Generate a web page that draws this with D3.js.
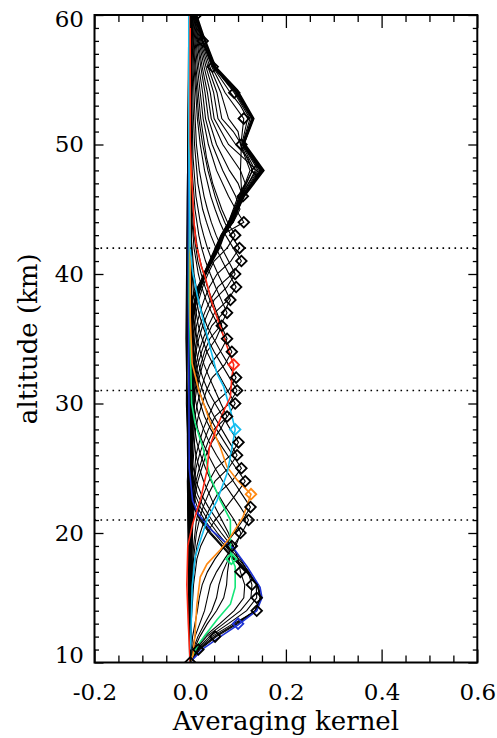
<!DOCTYPE html>
<html>
<head>
<meta charset="utf-8">
<script src="https://cdn.jsdelivr.net/npm/d3@7"></script>
<style>
    body { margin: 0; background: #fff; }
    svg { display: block; font-family: "DejaVu Serif", serif; }
</style>
</head>
<body>
<svg class="kernels" width="497" height="738"></svg>
<script>
// Nominal altitude of each kernel row (km).
let kernelAlt = [10, 11, 12, 13, 14, 15, 16, 17, 18, 19, 20, 21, 22, 23, 24, 25, 26, 27, 28, 29,
    30, 31, 32, 33, 34, 35, 36, 37, 38, 39, 40, 41, 42, 43, 44, 45, 46, 47, 48, 49,
    50, 51, 52, 53, 54, 55, 56, 57, 58, 59, 60];

// Kernel rows as [altitude, value] vertices, one list per nominal altitude.
let kernelRows = [
    [[10,0],[11,0.02],[12,0.055],[13,0.1],[14,0.138],[15,0.147],[16,0.14],[17,0.117],[18,0.09],[19,0.066],[20,0.042],[21,0.022],[22,0.008],[24,-0.003],[30,-0.008],[42,-0.006],[60,-0.002]],
    [[10,0],[11,0.017],[12,0.05],[13,0.095],[14,0.135],[15,0.148],[16,0.142],[17,0.12],[18,0.093],[19,0.068],[20,0.044],[21,0.024],[22,0.01],[24,-0.001],[32,-0.007],[46,-0.006],[60,-0.003]],
    [[10,0],[11,0.018],[12,0.052],[13,0.097],[14,0.136],[15,0.147],[16,0.141],[17,0.118],[18,0.09],[19,0.065],[20,0.04],[21,0.02],[22,0.007],[25,-0.004],[35,-0.009],[50,-0.005],[60,-0.002]],
    [[10,0],[10.3,0.007],[11.1,0.028],[12,0.063],[12.9,0.1],[14,0.139],[15,0.15],[15.8,0.146],[17.4,0.119],[18.8,0.091],[19.4,0.07],[20.3,0.042],[21.5,0.016],[22.5,0.005],[25,-0.002],[40,-0.004],[60,-0.002]],
    [[10,0],[11,0.015],[12,0.045],[13,0.09],[14,0.139],[15,0.146],[16,0.14],[17,0.121],[18,0.096],[19,0.073],[20,0.05],[21,0.03],[22,0.015],[23,0.006],[26,-0.002],[36,-0.006],[60,-0.001]],
    [[10,0],[11,0.013],[12,0.04],[13,0.08],[14,0.118],[15,0.139],[16,0.138],[17,0.123],[18,0.101],[19,0.079],[20,0.057],[21,0.037],[22,0.021],[23,0.01],[25,0],[38,-0.004],[60,0.001]],
    [[10,0],[11,0.011],[12,0.034],[13,0.07],[14,0.105],[15,0.127],[16,0.129],[17,0.121],[18,0.105],[19,0.086],[20,0.065],[21,0.045],[22,0.028],[23,0.015],[25,0.002],[35,-0.003],[60,0.002]],
    [[10,0],[11,0.01],[12,0.03],[13,0.062],[14,0.092],[15,0.112],[16,0.114],[17,0.105],[18,0.1],[19,0.09],[20,0.074],[21,0.056],[22,0.038],[23,0.023],[24,0.012],[26,0.001],[40,-0.002],[60,0.001]],
    [[10,0],[10.4,0.003],[11.4,0.017],[12.1,0.031],[13.3,0.056],[14.5,0.084],[15.8,0.094],[17.4,0.094],[18,0.087],[18.9,0.084],[21,0.084],[22.5,0.063],[24.3,0.042],[26.4,0.028],[28.5,0.01],[30,0.003],[38,-0.002],[60,0]],
    [[10,0],[11,0.008],[12,0.02],[13,0.036],[14,0.055],[15,0.07],[16,0.076],[17,0.078],[18,0.082],[19,0.089],[20,0.08],[21,0.066],[22,0.052],[23,0.04],[24,0.028],[25,0.019],[26,0.012],[28,0.005],[34,-0.003],[60,0]],
    [[10,0],[11,0.006],[12,0.016],[13,0.03],[14,0.045],[15,0.055],[16,0.06],[17,0.068],[18,0.08],[19,0.095],[20,0.106],[21,0.092],[22,0.074],[23,0.058],[24,0.044],[25,0.032],[26,0.022],[27,0.014],[29,0.005],[36,-0.005],[60,0.001]],
    [[10,0],[11,0.004],[12,0.01],[13,0.02],[14,0.03],[15,0.036],[16,0.042],[17,0.055],[18,0.072],[19,0.09],[20,0.108],[21,0.122],[22,0.105],[23,0.086],[24,0.068],[25,0.052],[26,0.038],[27,0.026],[28,0.016],[30,0.006],[36,0],[46,-0.004],[60,0]],
    [[10,0],[12,0.005],[13,0.01],[14,0.015],[15,0.019],[16,0.025],[17,0.036],[18,0.052],[19,0.072],[20,0.092],[21,0.11],[22,0.126],[23,0.108],[24,0.09],[25,0.072],[26,0.055],[27,0.04],[28,0.028],[29,0.018],[31,0.007],[38,0],[48,-0.003],[60,0]],
    [[10,0],[10.6,0.006],[12.2,0.01],[14.5,0.014],[16.6,0.021],[17.6,0.035],[18.7,0.063],[19.7,0.084],[21.2,0.11],[23,0.127],[24.1,0.098],[25.1,0.077],[26.6,0.063],[28.2,0.045],[29.7,0.031],[31,0.018],[33.1,0.004],[36.7,0],[60,0]],
    [[10,0],[13,0.002],[16,0.007],[18,0.014],[19,0.022],[20,0.035],[21,0.052],[22,0.075],[23,0.096],[24,0.115],[25,0.096],[26,0.078],[27,0.06],[28,0.043],[29,0.03],[30,0.021],[32,0.009],[35,0.002],[48,-0.003],[60,-0.001]],
    [[10,0],[14,0.002],[17,0.007],[19,0.014],[20,0.021],[21,0.03],[22,0.042],[23,0.057],[24,0.087],[25,0.107],[26,0.089],[27,0.072],[28,0.055],[29,0.04],[30,0.028],[31,0.019],[33,0.009],[36,0.002],[60,0.001]],
    [[10,0],[15,0.002],[18,0.007],[20,0.013],[21,0.019],[22,0.027],[23,0.038],[24,0.052],[25,0.08],[26,0.098],[27,0.082],[28,0.066],[29,0.05],[30,0.036],[31,0.026],[32,0.017],[34,0.008],[37,0.002],[52,-0.002],[60,0]],
    [[10,0],[16,0.002],[19,0.007],[21,0.013],[22,0.019],[23,0.028],[24,0.039],[25,0.054],[26,0.084],[27,0.101],[28,0.084],[29,0.068],[30,0.052],[31,0.037],[32,0.026],[33,0.018],[35,0.008],[38,0.002],[60,0.001]],
    [[10,0],[15.8,0.004],[18.1,0.01],[19.4,0.021],[21,0.035],[22.5,0.056],[24.6,0.077],[25.9,0.084],[28,0.094],[29.5,0.084],[31.3,0.07],[32.3,0.056],[34,0.044],[36,0.03],[38.3,0.015],[40.2,0.005],[42,0],[50,-0.003],[60,-0.003]],
    [[10,0],[18,0.002],[21,0.006],[23,0.011],[24,0.016],[25,0.024],[26,0.033],[27,0.045],[28,0.063],[29,0.077],[30,0.064],[31,0.052],[32,0.04],[33,0.029],[34,0.021],[35,0.014],[37,0.006],[40,0.001],[60,0]],
    [[10,0],[19,0.002],[22,0.007],[24,0.012],[25,0.019],[26,0.027],[27,0.037],[28,0.05],[29,0.078],[30,0.094],[31,0.078],[32,0.063],[33,0.048],[34,0.035],[35,0.025],[36,0.017],[38,0.008],[41,0.002],[60,0]],
    [[10,0],[20,0.002],[23,0.007],[25,0.012],[26,0.019],[27,0.028],[28,0.038],[29,0.052],[30,0.082],[31,0.098],[32,0.082],[33,0.066],[34,0.05],[35,0.036],[36,0.026],[37,0.018],[39,0.008],[42,0.002],[60,0.001]],
    [[10,0],[16,-0.004],[21,0.002],[24,0.007],[26,0.012],[27,0.019],[28,0.027],[29,0.038],[30,0.05],[31,0.08],[32,0.096],[33,0.08],[34,0.064],[35,0.049],[36,0.035],[37,0.025],[38,0.017],[40,0.008],[43,0.002],[60,0]],
    [[10,0],[13,-0.004],[16,-0.007],[19,-0.005],[20.7,0.005],[22.5,0.021],[24.8,0.035],[26.6,0.04],[28.2,0.056],[29.5,0.071],[30.5,0.084],[32,0.087],[33,0.091],[34.1,0.08],[35.9,0.063],[37.7,0.046],[39.8,0.031],[40.6,0.023],[41.6,0.017],[42.4,0.012],[44,0.008],[47.5,0.003],[50.3,0],[60,0]],
    [[10,0],[23,0.002],[26,0.007],[28,0.011],[29,0.017],[30,0.025],[31,0.034],[32,0.046],[33,0.072],[34,0.087],[35,0.073],[36,0.059],[37,0.045],[38,0.033],[39,0.024],[40,0.017],[42,0.008],[45,0.002],[60,0]],
    [[10,0],[20,0.004],[24,0.002],[27,0.006],[29,0.01],[30,0.015],[31,0.022],[32,0.03],[33,0.041],[34,0.063],[35,0.077],[36,0.065],[37,0.053],[38,0.041],[39,0.031],[40,0.023],[41,0.016],[43,0.008],[46,0.002],[60,0]],
    [[10,0],[25,0.002],[28,0.006],[30,0.009],[31,0.013],[32,0.019],[33,0.026],[34,0.035],[35,0.054],[36,0.066],[37,0.056],[38,0.046],[39,0.036],[40,0.028],[41,0.021],[42,0.015],[44,0.008],[47,0.003],[60,0.001]],
    [[10,0],[18,-0.005],[26,0.002],[29,0.007],[31,0.01],[32,0.015],[33,0.022],[34,0.03],[35,0.041],[36,0.063],[37,0.077],[38,0.065],[39,0.053],[40,0.042],[41,0.032],[42,0.024],[43,0.018],[45,0.01],[48,0.004],[60,0.001]],
    [[10,0],[27,0.002],[30,0.007],[32,0.011],[33,0.016],[34,0.024],[35,0.033],[36,0.045],[37,0.069],[38,0.084],[39,0.071],[40,0.058],[41,0.046],[42,0.036],[43,0.028],[44,0.021],[46,0.012],[49,0.006],[52,0.004],[56,0.002],[60,0.001]],
    [[10,0],[22,0.005],[28,0.002],[31,0.007],[33,0.012],[34,0.018],[35,0.027],[36,0.038],[37,0.051],[38,0.079],[39,0.096],[40,0.081],[41,0.067],[42,0.054],[43,0.043],[44,0.034],[45,0.026],[47,0.016],[50,0.009],[53,0.006],[56,0.004],[60,0.002]],
    [[10,0],[29,0.002],[32,0.007],[34,0.012],[35,0.018],[36,0.026],[37,0.037],[38,0.05],[39,0.077],[40,0.094],[41,0.08],[42,0.066],[43,0.054],[44,0.044],[45,0.036],[46,0.029],[48,0.019],[50,0.013],[53,0.009],[56,0.006],[60,0.002]],
    [[10,0],[24,-0.006],[30,0.002],[33,0.007],[35,0.014],[36,0.02],[37,0.03],[38,0.042],[39,0.058],[40,0.088],[41,0.107],[42,0.09],[43,0.074],[44,0.062],[45,0.052],[46,0.043],[48,0.03],[50,0.021],[52,0.015],[56,0.008],[60,0.003]],
    [[10,0],[31,0.002],[34,0.007],[36,0.013],[37,0.02],[38,0.029],[39,0.04],[40,0.056],[41,0.085],[42,0.103],[43,0.085],[44,0.072],[45,0.061],[46,0.052],[48,0.037],[50,0.026],[52,0.018],[56,0.01],[60,0.003]],
    [[10,0],[26,0.004],[32,0.002],[35,0.007],[37,0.012],[38,0.018],[39,0.026],[40,0.037],[41,0.05],[42,0.077],[43,0.094],[44,0.078],[45,0.066],[47,0.047],[49,0.034],[52,0.022],[54,0.017],[56,0.012],[58,0.008],[60,0.004]],
    [[10,0],[25,-0.005],[32,0],[36,0.005],[38,0.013],[40,0.03],[42,0.054],[43,0.066],[44,0.112],[45,0.095],[46,0.08],[48,0.055],[50,0.038],[52,0.027],[54,0.021],[56,0.015],[58,0.01],[60,0.005]],
    [[10,0],[20,0.003],[33,0],[37,0.007],[40,0.03],[42,0.055],[43,0.066],[44,0.09],[45,0.104],[46,0.095],[48,0.068],[50,0.046],[52,0.032],[54,0.026],[56,0.018],[58,0.012],[60,0.006]],
    [[10,0],[28,-0.003],[33,0],[37,0.006],[40,0.029],[42,0.054],[43,0.065],[44,0.085],[46,0.11],[47,0.1],[48,0.082],[50,0.055],[52,0.038],[54,0.031],[56,0.022],[58,0.014],[60,0.007]],
    [[10,0],[24,0.004],[34,0],[38,0.01],[40,0.028],[42,0.052],[43,0.064],[44,0.08],[46,0.1],[47,0.115],[48,0.105],[50,0.068],[52,0.044],[54,0.036],[56,0.025],[58,0.016],[60,0.008]],
    [[10,0],[18,-0.004],[34,0],[38,0.01],[40,0.03],[42,0.055],[43,0.066],[44,0.083],[46,0.105],[48,0.139],[49,0.11],[50,0.08],[52,0.05],[54,0.042],[56,0.029],[58,0.018],[60,0.008]],
    [[10,0],[26,0.002],[35,0],[38,0.009],[40,0.028],[42,0.054],[43,0.065],[44,0.08],[46,0.103],[48,0.13],[49,0.12],[50,0.095],[52,0.058],[54,0.049],[56,0.033],[58,0.02],[60,0.009]],
    [[10,0],[30,-0.004],[35,0],[38,0.01],[40,0.03],[42,0.056],[43,0.066],[44,0.08],[46,0.108],[48,0.105],[50,0.107],[51,0.09],[52,0.066],[54,0.056],[56,0.037],[58,0.022],[60,0.01]],
    [[10,0],[22,0.003],[35,0],[38,0.01],[40,0.031],[42,0.057],[43,0.067],[44,0.082],[46,0.105],[48,0.125],[50,0.105],[51,0.1],[52,0.08],[54,0.064],[56,0.041],[58,0.024],[60,0.01]],
    [[10,0],[27,-0.006],[36,0],[38,0.011],[40,0.031],[42,0.057],[43,0.068],[44,0.083],[46,0.106],[48,0.13],[50,0.106],[52,0.112],[54,0.073],[56,0.045],[58,0.025],[60,0.011]],
    [[10,0],[20,0.004],[36,0],[38,0.011],[40,0.032],[42,0.058],[43,0.068],[44,0.084],[46,0.107],[48,0.136],[50,0.108],[52,0.12],[53,0.105],[54,0.084],[56,0.047],[58,0.026],[60,0.011]],
    [[10,0],[31,-0.003],[36,0],[38,0.012],[40,0.032],[42,0.058],[43,0.069],[44,0.085],[46,0.108],[48,0.142],[50,0.109],[52,0.125],[54,0.092],[56,0.049],[58,0.026],[60,0.012]],
    [[10,0],[24,0.002],[36,0.001],[38,0.012],[40,0.032],[42,0.059],[43,0.069],[44,0.086],[46,0.109],[48,0.145],[50,0.11],[52,0.128],[54,0.094],[56,0.05],[58,0.026],[60,0.012]],
    [[10,0],[29,-0.005],[37,0.001],[38,0.012],[40,0.033],[42,0.059],[43,0.07],[44,0.087],[46,0.11],[48,0.147],[50,0.11],[52,0.13],[54,0.096],[56,0.047],[58,0.026],[60,0.012]],
    [[10,0],[21,0.002],[37,0.001],[39,0.02],[41,0.045],[43,0.07],[44,0.088],[46,0.11],[48,0.149],[50,0.111],[52,0.13],[54,0.097],[56,0.05],[58,0.026],[60,0.012]],
    [[10,0],[26,-0.002],[37,0.002],[39,0.02],[41,0.045],[43,0.07],[44,0.089],[46,0.111],[48,0.151],[50,0.112],[52,0.131],[54,0.097],[56,0.051],[58,0.026],[60,0.0125]],
    [[10,0],[30,0.003],[38,0.002],[40,0.03],[42,0.06],[43,0.07],[44,0.09],[46,0.111],[48,0.152],[50,0.112],[52,0.132],[54,0.098],[56,0.052],[58,0.027],[60,0.0125]],
    [[10,0],[23,-0.004],[38,0.003],[40,0.031],[42,0.06],[43,0.07],[44.9,0.098],[46,0.112],[48,0.153],[50.1,0.112],[52,0.132],[54.2,0.098],[56,0.052],[58.3,0.028],[60,0.0125]]
];

// Rows drawn in colour, and the thick top row.
let colourAlt = [13, 18, 23, 28, 33];
let colourHex = ["#1e32d2", "#14e678", "#ff8a14", "#14bef0", "#ff2814"];
let thickAlt = [60];

// Diagonal values, marked with diamonds.
let diagAlt = [10, 11, 12, 13, 14, 15, 16, 17, 18, 19, 20, 21, 22, 23, 24, 25, 26, 27, 28, 29,
    30, 31, 32, 33, 34, 35, 36, 37, 38, 39, 40, 41, 42, 43, 44, 46, 48, 50, 52, 54, 56, 58, 60];
let diagVal = [0.0, 0.017, 0.052, 0.1, 0.139, 0.139, 0.129, 0.105, 0.086, 0.087,
    0.105, 0.122, 0.126, 0.127, 0.115, 0.107, 0.098, 0.101, 0.094, 0.077,
    0.094, 0.098, 0.096, 0.091, 0.087, 0.077, 0.066, 0.077, 0.084, 0.096,
    0.094, 0.107, 0.103, 0.094, 0.112, 0.110, 0.139, 0.107, 0.112, 0.092, 0.047, 0.026, 0.0125];

// Reference altitudes (dotted lines).
let refAlt = [42, 31, 21];

// Axis ticks.
let xMajor = [-0.2, 0.0, 0.2, 0.4, 0.6];
let xMinor = [-0.15, -0.1, -0.05, 0.05, 0.1, 0.15, 0.25, 0.3, 0.35, 0.45, 0.5, 0.55];
let yMajor = [10, 20, 30, 40, 50, 60];
let yMinor = [11, 12, 13, 14, 15, 16, 17, 18, 19, 21, 22, 23, 24, 25, 26, 27, 28, 29,
    31, 32, 33, 34, 35, 36, 37, 38, 39, 41, 42, 43, 44, 45, 46, 47, 48, 49,
    51, 52, 53, 54, 55, 56, 57, 58, 59];

function drawKernels(svgClass) {
    let svg = d3.select(svgClass);

    let plot = { left: 94.5, right: 477.3, top: 15, bottom: 662.5 };

    let x = d3.scaleLinear().domain([-0.2, 0.6]).range([plot.left, plot.right]);
    let y = d3.scaleLinear().domain([10, 60]).range([plot.bottom, plot.top]);

    svg.append("clipPath").attr("id", "plotClip")
        .append("rect")
        .attr("x", plot.left).attr("y", plot.top)
        .attr("width", plot.right - plot.left).attr("height", plot.bottom - plot.top);

    let body = svg.append("g").attr("clip-path", "url(#plotClip)");

    let line = d3.line()
        .x(d => x(d[1]))
        .y(d => y(d[0]));

    // Black rows first.
    kernelRows.forEach((row, i) => {
        let alt = kernelAlt[i];
        if (colourAlt.indexOf(alt) >= 0) return;
        body.append("path")
            .attr("d", line(row))
            .attr("fill", "none")
            .attr("stroke", "#000")
            .attr("stroke-width", thickAlt.indexOf(alt) >= 0 ? 2.4 : 1.1);
    });

    // Coloured rows on top.
    colourAlt.forEach((alt, c) => {
        body.append("path")
            .attr("d", line(kernelRows[kernelAlt.indexOf(alt)]))
            .attr("fill", "none")
            .attr("stroke", colourHex[c])
            .attr("stroke-width", 1.6);
    });

    // Dotted reference altitudes.
    refAlt.forEach(a => {
        svg.append("line")
            .attr("x1", plot.left).attr("x2", plot.right)
            .attr("y1", y(a)).attr("y2", y(a))
            .attr("stroke", "#000")
            .attr("stroke-width", 1.6)
            .attr("stroke-dasharray", "1.6,4.4");
    });

    // Diamonds on the diagonal.
    let diamond = d3.symbol().type(d3.symbolSquare).size(56);
    diagAlt.forEach((a, i) => {
        let c = colourAlt.indexOf(a);
        body.append("path")
            .attr("d", diamond())
            .attr("transform", "translate(" + x(diagVal[i]) + "," + y(a) + ") rotate(45)")
            .attr("fill", "none")
            .attr("stroke", c >= 0 ? colourHex[c] : "#000")
            .attr("stroke-width", 1.8);
    });

    // Axes: ticks point inwards on all four sides.
    function tickAxis(axis, values, size, labels) {
        return axis.tickValues(values).tickSize(-size)
            .tickFormat(labels ? null : "");
    }

    let bottom = svg.append("g").attr("transform", "translate(0," + plot.bottom + ")");
    bottom.call(tickAxis(d3.axisBottom(x), xMinor, 7, false));
    bottom.append("g").call(tickAxis(d3.axisBottom(x), xMajor, 13, true)
        .tickPadding(21).tickFormat(d => d.toFixed(1)));

    let top = svg.append("g").attr("transform", "translate(0," + plot.top + ")");
    top.call(tickAxis(d3.axisTop(x), xMinor, 7, false));
    top.append("g").call(tickAxis(d3.axisTop(x), xMajor, 13, false));

    let left = svg.append("g").attr("transform", "translate(" + plot.left + ",0)");
    left.call(tickAxis(d3.axisLeft(y), yMinor, 4.5, false));
    left.append("g").call(tickAxis(d3.axisLeft(y), yMajor, 9, true)
        .tickPadding(10.5).tickFormat(d3.format("d")));

    let right = svg.append("g").attr("transform", "translate(" + plot.right + ",0)");
    right.call(tickAxis(d3.axisRight(y), yMinor, 4.5, false));
    right.append("g").call(tickAxis(d3.axisRight(y), yMajor, 9, false));

    svg.selectAll(".domain").remove();
    svg.selectAll(".tick line").attr("stroke", "#000").attr("stroke-width", 1.3);
    svg.selectAll(".tick text")
        .attr("fill", "#000")
        .style("font-family", "'DejaVu Serif', serif")
        .style("font-size", "23px");

    // Nudge the end labels of the altitude axis inside the frame.
    left.selectAll(".tick text").attr("dy", d => d == 60 ? "0.5em" : d == 10 ? "0.02em" : "0.32em");

    // Frame.
    svg.append("rect")
        .attr("x", plot.left).attr("y", plot.top)
        .attr("width", plot.right - plot.left).attr("height", plot.bottom - plot.top)
        .attr("fill", "none")
        .attr("stroke", "#000")
        .attr("stroke-width", 2);

    // Axis titles.
    svg.append("text")
        .attr("x", (plot.left + plot.right) / 2)
        .attr("y", 730)
        .attr("text-anchor", "middle")
        .style("font-size", "26px")
        .text("Averaging kernel");

    svg.append("text")
        .attr("transform", "translate(37," + (plot.top + plot.bottom) / 2 + ") rotate(-90)")
        .attr("text-anchor", "middle")
        .style("font-size", "26px")
        .text("altitude (km)");
}

drawKernels(".kernels");
</script>
</body>
</html>
